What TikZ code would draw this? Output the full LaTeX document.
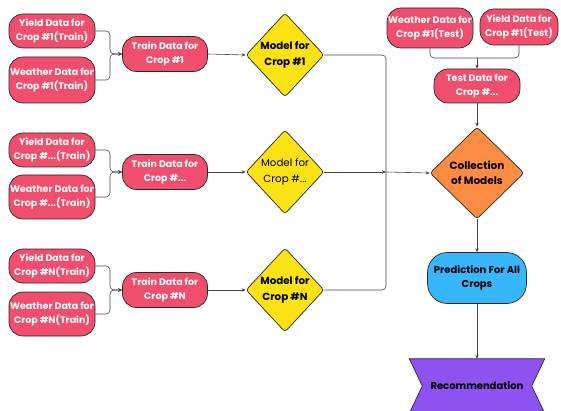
\documentclass[tikz,border=0pt]{standalone}
\usepackage{fontspec}
\setmainfont{Poppins}
\usetikzlibrary{shapes.geometric,arrows.meta,calc}
\definecolor{pinkbox}{RGB}{240,78,108}
\definecolor{yellowd}{RGB}{250,226,20}
\definecolor{orangec}{RGB}{250,140,68}
\definecolor{bluep}{RGB}{56,182,250}
\definecolor{purpler}{RGB}{142,82,240}
\definecolor{edge}{RGB}{40,40,40}
\tikzset{
  x=1pt,y=-1pt,
  pinkbox/.style={draw=edge,line width=0.7pt,fill=pinkbox,rounded corners=14pt,
    text=white,font=\fontsize{9.5}{14}\selectfont\bfseries,align=center,inner sep=0pt},
  modelbox/.style={diamond,draw=edge,line width=0.7pt,fill=yellowd,rounded corners=3pt,
    minimum width=78pt,minimum height=84pt,inner sep=0pt,align=center,
    font=\fontsize{10.3}{15.5}\selectfont},
  conn/.style={draw=edge!85,line width=0.6pt,rounded corners=4pt,-{Stealth[length=4pt,width=3.5pt]}},
  line/.style={draw=edge!85,line width=0.6pt,rounded corners=4pt},
}
\begin{document}
\begin{tikzpicture}
\useasboundingbox (0,0) rectangle (561,411);
% row 1
\node[pinkbox,minimum width=86pt,minimum height=34pt] (y1) at (52,31) {Yield Data for\\Crop \#1(Train)};
\node[pinkbox,minimum width=86pt,minimum height=46pt] (w1) at (52,80) {Weather Data for\\Crop \#1(Train)};
\node[pinkbox,minimum width=85pt,minimum height=35pt] (t1) at (165,54) {Train Data for\\Crop \#1};
\node[modelbox,font=\fontsize{10.3}{15.5}\selectfont\bfseries] (m1) at (285,55) {Model for\\Crop \#1};
% row 2
\node[pinkbox,minimum width=86pt,minimum height=34pt] (y2) at (52,150) {Yield Data for\\Crop \#...(Train)};
\node[pinkbox,minimum width=86pt,minimum height=44pt] (w2) at (52,197) {Weather Data for\\Crop \#...(Train)};
\node[pinkbox,minimum width=85pt,minimum height=35pt] (t2) at (165,172) {Train Data for\\Crop \#...};
\node[modelbox] (m2) at (285,172) {Model for\\Crop \#...};
% row 3
\node[pinkbox,minimum width=86pt,minimum height=34pt] (y3) at (52,266) {Yield Data for\\Crop \#N(Train)};
\node[pinkbox,minimum width=86pt,minimum height=44pt] (w3) at (52,314) {Weather Data for\\Crop \#N(Train)};
\node[pinkbox,minimum width=85pt,minimum height=35pt] (t3) at (165,290) {Train Data for\\Crop \#N};
\node[modelbox,font=\fontsize{10.3}{15.5}\selectfont\bfseries] (m3) at (285,290) {Model for\\Crop \#N};
% right column
\node[pinkbox,minimum width=86pt,minimum height=40pt] (wt) at (430,28) {Weather Data for\\Crop \#1(Test)};
\node[pinkbox,minimum width=78pt,minimum height=36pt] (yt) at (519,27) {Yield Data for\\Crop \#1(Test)};
\node[pinkbox,minimum width=86pt,minimum height=34pt] (td) at (477,86) {Test Data for\\Crop \#...};
\node[diamond,draw=edge,line width=0.7pt,fill=orangec,rounded corners=3pt,
  minimum width=94pt,minimum height=92pt,inner sep=0pt,align=center,
  font=\fontsize{10.5}{15.5}\selectfont\bfseries] (coll) at (477,173) {Collection\\of Models};
\node[draw=edge,line width=0.7pt,fill=bluep,rounded corners=20pt,minimum width=99pt,
  minimum height=51pt,inner sep=0pt,align=center,font=\fontsize{10}{14.5}\selectfont\bfseries]
  (pred) at (477,278) {Prediction For All\\Crops};
\node[minimum width=135pt,minimum height=54pt,inner sep=0pt] (rec) at (477,386) {};
\filldraw[draw=edge,line width=0.7pt,fill=purpler]
  (rec.north west) -- (rec.north east) -- ($(rec.east)+(-13,0)$) -- (rec.south east)
  -- (rec.south west) -- ($(rec.west)+(13,0)$) -- cycle;
\node[font=\fontsize{10}{12}\selectfont\bfseries] at (rec.center) {Recommendation};
% junction coordinates
\coordinate (j1) at (110,54);
\coordinate (j2) at (110,172);
\coordinate (j3) at (110,290);
\coordinate (jm) at (386,172);
\coordinate (jt) at (477,58);
% connectors rows
\foreach \r in {1,2,3}{
  \draw[conn] (y\r.east) -| (j\r) -- (t\r.west);
  \draw[conn] (w\r.east) -| (j\r) -- (t\r.west);
  \draw[conn] (t\r.east) -- (m\r.west);
}
\draw[line] (m1.east) -| (jm);
\draw[line] (m3.east) -| (jm);
\draw[conn] (m2.east) -- (jm);
\draw[conn] (jm) -- (coll.west);
\draw[line] (wt.south) |- (jt);
\draw[line] (yt.south) |- (jt);
\draw[conn] (jt) -- (td.north);
\draw[conn] (td.south) -- (coll.north);
\draw[conn] (coll.south) -- (pred.north);
\draw[conn] (pred.south) -- (rec.north);
\end{tikzpicture}
\end{document}
